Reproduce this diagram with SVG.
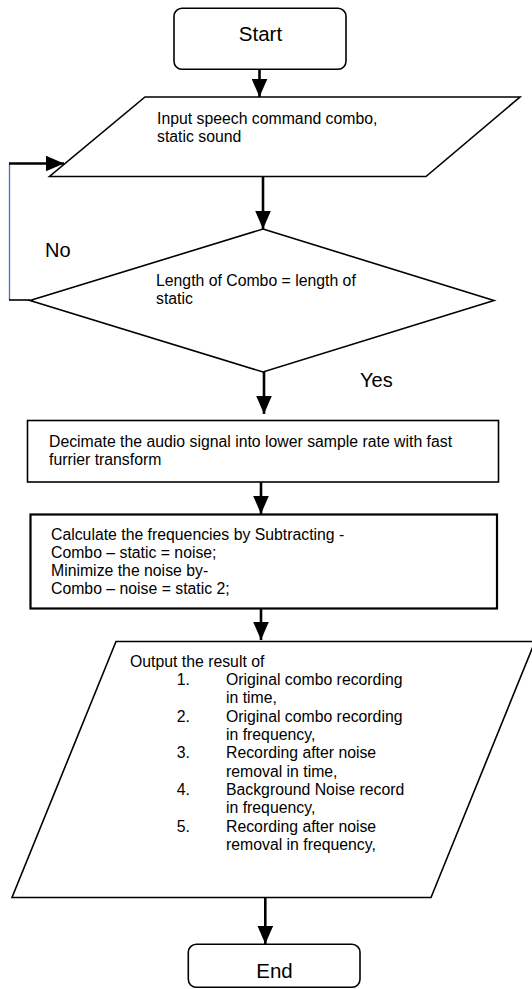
<svg xmlns="http://www.w3.org/2000/svg" width="532" height="989" viewBox="0 0 532 989">
<defs>
<style>
.shape{fill:#fff;stroke:#000;stroke-width:1.6}
.thick{stroke-width:2.2}
.t{font-family:"Liberation Sans",Arial,sans-serif;font-size:15.8px;fill:#000}
.big{font-family:"Liberation Sans",Arial,sans-serif;font-size:20.5px;fill:#000}
.lbl{font-family:"Liberation Sans",Arial,sans-serif;font-size:20px;fill:#000}
.conn{fill:none;stroke:#000;stroke-width:2.6}
.loop{fill:none;stroke:#4a7ebb;stroke-width:1.4}
</style>
<marker id="ah" markerUnits="userSpaceOnUse" markerWidth="19" markerHeight="16" refX="18.5" refY="8" orient="auto">
<path d="M0,0 L18.5,8 L0,16 z" fill="#000"/>
</marker>
</defs>
<rect width="532" height="989" fill="#fff"/>

<g id="connectors">
<line class="conn" x1="259.5" y1="69" x2="259.5" y2="97" marker-end="url(#ah)"/>
<line class="conn" x1="263" y1="176" x2="263" y2="229" marker-end="url(#ah)"/>
<line class="conn" x1="264" y1="372" x2="264" y2="414" marker-end="url(#ah)"/>
<line class="conn" x1="261" y1="482" x2="261" y2="514" marker-end="url(#ah)"/>
<line class="conn" x1="261" y1="608.5" x2="261" y2="640" marker-end="url(#ah)"/>
<line class="conn" x1="265.3" y1="897.5" x2="265.3" y2="944" marker-end="url(#ah)"/>
<line class="loop" x1="9.5" y1="163.5" x2="9.5" y2="300"/>
<line fill="none" stroke="#000" stroke-width="1.6" x1="9" y1="300" x2="30" y2="300"/>
<line class="conn" x1="9" y1="163.5" x2="64" y2="163.5" marker-end="url(#ah)"/>
<text class="lbl" x="45" y="256.5">No</text>
<text class="lbl" x="360" y="387">Yes</text>
</g>

<g id="start">
<rect class="shape" x="174" y="8.3" width="172" height="61" rx="8"/>
<text class="big" x="260.5" y="41" text-anchor="middle">Start</text>
</g>

<g id="input">
<polygon class="shape" points="145,97 520,97 426,176.5 49.5,176.5"/>
<text class="t" x="157" y="124">Input speech command combo,</text>
<text class="t" x="157" y="142.3">static sound</text>
</g>

<g id="decision">
<polygon class="shape" points="263,229 494,300.5 263,372 30,300.5"/>
<text class="t" x="156" y="286">Length of Combo = length of</text>
<text class="t" x="156" y="304.3">static</text>
</g>

<g id="decimate">
<rect class="shape" x="27.5" y="420.5" width="471" height="61.5"/>
<text class="t" x="49" y="446.5">Decimate the audio signal into lower sample rate with fast</text>
<text class="t" x="49" y="464.8">furrier transform</text>
</g>

<g id="calculate">
<rect class="shape thick" x="30.5" y="514.5" width="466.5" height="94"/>
<text class="t" x="51" y="539.5">Calculate the frequencies by Subtracting -</text>
<text class="t" x="51" y="557.8">Combo – static = noise;</text>
<text class="t" x="51" y="576.1">Minimize the noise by-</text>
<text class="t" x="51" y="594.4">Combo – noise = static 2;</text>
</g>

<g id="output">
<polygon class="shape" points="116,641.5 535,641.5 431,897.5 12,897.5"/>
<text class="t" x="130" y="666.7">Output the result of</text>
<text class="t" x="176.7" y="685">1.</text>
<text class="t" x="226" y="685">Original combo recording</text>
<text class="t" x="226" y="703.3">in time,</text>
<text class="t" x="176.7" y="721.7">2.</text>
<text class="t" x="226" y="721.7">Original combo recording</text>
<text class="t" x="226" y="740">in frequency,</text>
<text class="t" x="176.7" y="758.3">3.</text>
<text class="t" x="226" y="758.3">Recording after noise</text>
<text class="t" x="226" y="776.7">removal in time,</text>
<text class="t" x="176.7" y="795">4.</text>
<text class="t" x="226" y="795">Background Noise record</text>
<text class="t" x="226" y="813.3">in frequency,</text>
<text class="t" x="176.7" y="831.7">5.</text>
<text class="t" x="226" y="831.7">Recording after noise</text>
<text class="t" x="226" y="850">removal in frequency,</text>
</g>

<g id="end">
<rect class="shape" x="188.3" y="944.3" width="171.7" height="43" rx="8"/>
<text class="big" x="274.5" y="977.5" text-anchor="middle">End</text>
</g>
</svg>
